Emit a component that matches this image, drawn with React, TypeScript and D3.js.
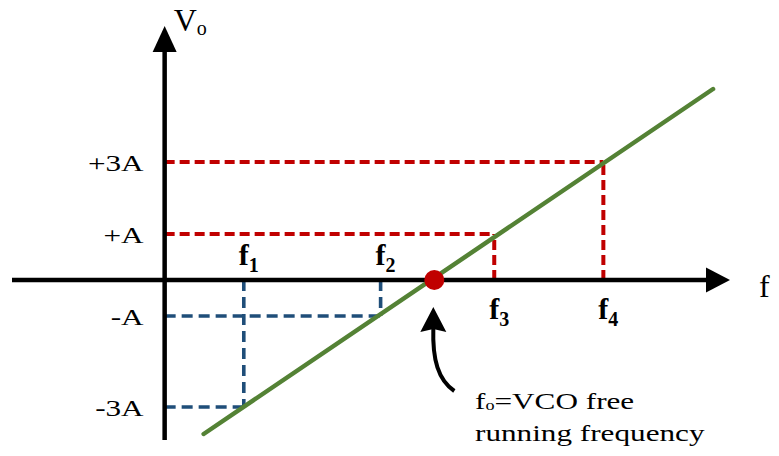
import React from "react";
import * as d3 from "d3";

// ---- data (diagram units) ----
const xAxisRange = [-27, 100];          // f axis extent
const yAxisRange = [-4, 6.35];          // Vo axis extent
const freqNames = ["1", "2", "3", "4"];
const freqValues = [14.0, 38.2, 58.3, 77.6];
const levelLabels = ["+3A", "+A", "-A", "-3A"];
const levelValues = [2.95, 1.15, -0.9, -3.175];
const levelFreqIndex = [3, 2, 1, 0];     // which f each level maps to
const f0Value = 47.7;
const lineF = [6.9, 97.0];
const lineV = [-3.85, 4.775];

const W = 779;
const H = 456;
const SERIF = "'Liberation Serif', 'Times New Roman', serif";
const RED = "#c00000";
const BLUE = "#1f4e79";
const GREEN = "#548235";

export default function App() {
  const x = d3.scaleLinear().domain([-27, 100]).range([12, 730]);
  const y = d3.scaleLinear().domain([-4, 6.35]).range([440, 26]);
  const x0 = x(0);
  const y0 = y(0);

  const lineGen = d3
    .line<[number, number]>()
    .x((d) => x(d[0]))
    .y((d) => y(d[1]));
  const greenPts: [number, number][] = [
    [lineF[0], lineV[0]],
    [lineF[1], lineV[1]],
  ];

  const xEnd = x(xAxisRange[1]);
  const yTop = y(yAxisRange[1]);

  return (
    <svg
      width={W}
      height={H}
      viewBox={`0 0 ${W} ${H}`}
      style={{ position: "absolute", left: 0, top: 0, background: "#fff" }}
    >
      <rect width={W} height={H} fill="#fff" />

      {/* dashed guide lines */}
      {levelValues.map((v, i) => {
        const fx = x(freqValues[levelFreqIndex[i]]);
        const pos = v > 0;
        const color = pos ? RED : BLUE;
        const dash = pos ? "10 5" : "11 6";
        const sw = pos ? 4 : 3.6;
        return (
          <g key={levelLabels[i]}>
            <line x1={x0} y1={y(v)} x2={fx} y2={y(v)} stroke={color} strokeWidth={sw} strokeDasharray={dash} />
            <line x1={fx} y1={y0} x2={fx} y2={y(v)} stroke={color} strokeWidth={sw} strokeDasharray={dash} />
          </g>
        );
      })}

      {/* axes */}
      <line x1={x(xAxisRange[0])} y1={y0} x2={xEnd - 10} y2={y0} stroke="#000" strokeWidth={4.5} />
      <path d={`M${xEnd},${y0} L${xEnd - 24},${y0 - 12.5} L${xEnd - 24},${y0 + 12.5} Z`} fill="#000" />
      <line x1={x0} y1={y(yAxisRange[0])} x2={x0} y2={yTop + 10} stroke="#000" strokeWidth={4.5} />
      <path d={`M${x0},${yTop} L${x0 - 12},${yTop + 26} L${x0 + 12},${yTop + 26} Z`} fill="#000" />

      {/* transfer line */}
      <path d={lineGen(greenPts) || ""} stroke={GREEN} strokeWidth={4.5} fill="none" strokeLinecap="round" />

      {/* free running point */}
      <circle cx={x(f0Value)} cy={y0} r={10} fill={RED} />

      {/* level labels */}
      {levelValues.map((v, i) => (
        <text
          key={"l" + i}
          transform={`translate(${x0 - 21},${y(v) + 9}) scale(1.3,1)`}
          textAnchor="end"
          fontFamily={SERIF}
          fontSize={24}
          fill="#000"
        >
          {levelLabels[i]}
        </text>
      ))}

      {/* frequency labels */}
      {freqValues.map((f, i) => {
        const above = f < f0Value;
        return (
          <text
            key={"f" + i}
            x={x(f) - 5}
            y={above ? y0 - 15 : y0 + 39}
            fontFamily={SERIF}
            fontSize={30}
            fontWeight="bold"
            fill="#000"
          >
            f
            <tspan fontSize={20} dy={7}>
              {freqNames[i]}
            </tspan>
          </text>
        );
      })}

      {/* axis titles */}
      <text x={x0 + 9} y={31} fontFamily={SERIF} fontSize={32} fill="#000">
        V<tspan fontSize={20} dy={4}>o</tspan>
      </text>
      <text x={xEnd + 29} y={y0 + 17} fontFamily={SERIF} fontSize={32} fill="#000">
        f
      </text>

      {/* annotation arrow */}
      <path
        d={`M${x(f0Value) - 1},328 C${x(f0Value) - 2},360 ${x(f0Value) + 4},380 ${x(f0Value) + 20},391`}
        stroke="#000"
        strokeWidth={4}
        fill="none"
      />
      <path
        d={`M${x(f0Value) - 1},307 L${x(f0Value) - 14},332 L${x(f0Value) - 1},329 L${x(f0Value) + 12},332 Z`}
        fill="#000"
      />

      {/* annotation text */}
      <text transform="translate(475,409) scale(1.3,1)" fontFamily={SERIF} fontSize={24} fill="#000">
        f<tspan fontSize={14} dy={1}>o</tspan>
        <tspan dy={-1}>=VCO free</tspan>
      </text>
      <text transform="translate(475,441) scale(1.3,1)" fontFamily={SERIF} fontSize={24} fill="#000">
        running frequency
      </text>
    </svg>
  );
}
